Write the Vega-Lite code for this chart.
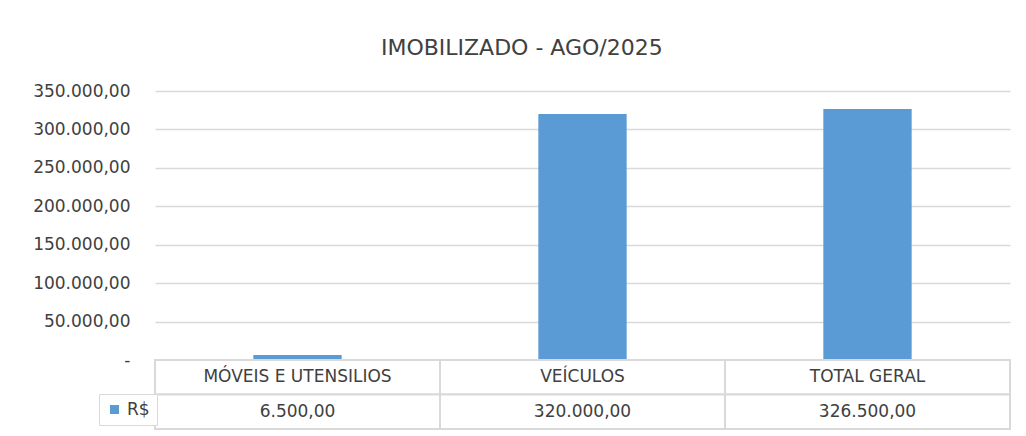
{
  "$schema": "https://vega.github.io/schema/vega-lite/v6.json",
  "background": "white",
  "padding": {"left": 32, "top": 37, "right": 12, "bottom": 5},
  "title": {"text": "IMOBILIZADO - AGO/2025", "frame": "bounds", "anchor": "middle", "fontSize": 22, "font": "DejaVu Sans", "fontWeight": "normal", "color": "#404040", "offset": 22},
  "data": {"values": [
    {"categoria": "MÓVEIS E UTENSILIOS", "valor": 6500},
    {"categoria": "VEÍCULOS", "valor": 320000},
    {"categoria": "TOTAL GERAL", "valor": 326500}
  ]},
  "config": {
    "locale": {"number": {"decimal": ",", "thousands": ".", "grouping": [3], "currency": ["R$ ", ""]}},
    "font": "DejaVu Sans",
    "view": {"stroke": null}
  },
  "bounds": "flush",
  "spacing": 0,
  "vconcat": [
    {
      "width": 855,
      "height": 269,
      "mark": {"type": "bar", "width": {"band": 0.31}},
      "encoding": {
        "x": {"field": "categoria", "type": "nominal", "sort": null, "scale": {"paddingInner": 0, "paddingOuter": 0}, "axis": null},
        "y": {"field": "valor", "type": "quantitative", "scale": {"domain": [0, 350000]},
          "axis": {"values": [0, 50000, 100000, 150000, 200000, 250000, 300000, 350000],
            "labelExpr": "datum.value === 0 ? '-\u00a0\u00a0' : format(datum.value, ',.2f')",
            "domain": false, "ticks": false, "gridColor": "#d9d9d9", "gridWidth": 1.3,
            "labelFontSize": 17, "labelColor": "#404040", "labelPadding": 25, "title": null}},
        "color": {"datum": "R$", "type": "nominal", "scale": {"range": ["#5B9BD5"]},
          "legend": {"orient": "none", "legendX": -56, "legendY": 303, "title": null,
            "strokeColor": "#d9d9d9", "fillColor": "white", "padding": 7,
            "symbolType": "square", "symbolSize": 81, "symbolStrokeWidth": 0,
            "labelFontSize": 17, "labelColor": "#404040", "labelOffset": 4}}
      }
    },
    {
      "width": 855,
      "height": 69,
      "encoding": {
        "x": {"field": "categoria", "type": "nominal", "sort": null, "scale": {"paddingInner": 0, "paddingOuter": 0}, "axis": null}
      },
      "layer": [
        {"mark": {"type": "rect", "fill": "white", "stroke": "#d9d9d9", "strokeWidth": 2},
         "encoding": {"y": {"datum": "h", "type": "nominal", "scale": {"domain": ["h", "v"], "paddingInner": 0, "paddingOuter": 0}, "axis": null}}},
        {"mark": {"type": "rect", "fill": "white", "stroke": "#d9d9d9", "strokeWidth": 2},
         "encoding": {"y": {"datum": "v", "type": "nominal"}}},
        {"mark": {"type": "text", "fontSize": 17, "color": "#404040"},
         "encoding": {"y": {"datum": "h", "type": "nominal"}, "text": {"field": "categoria"}}},
        {"mark": {"type": "text", "fontSize": 17, "color": "#404040"},
         "encoding": {"y": {"datum": "v", "type": "nominal"}, "text": {"field": "valor", "type": "quantitative", "format": ",.2f"}}}
      ]
    }
  ]
}
